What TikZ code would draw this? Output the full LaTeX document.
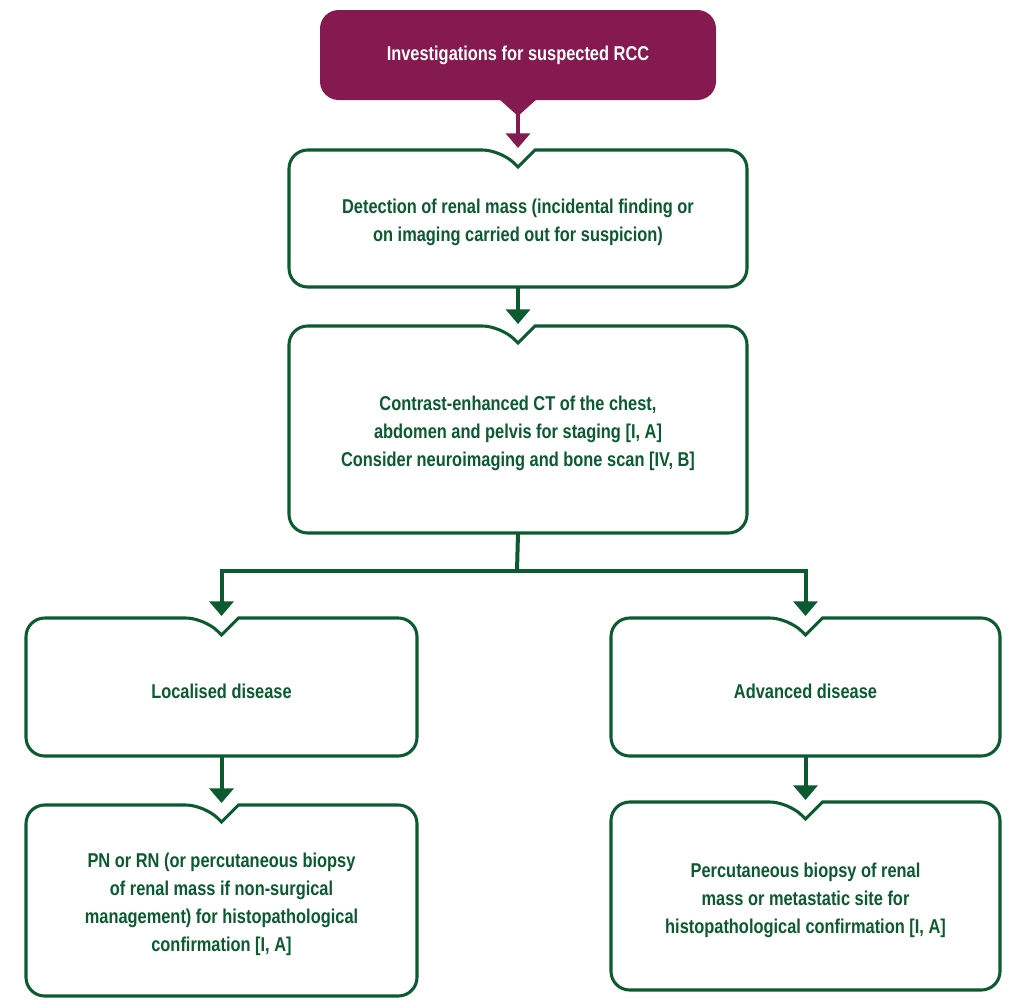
\documentclass[tikz,border=0pt]{standalone}
\usepackage{fontspec}
\setmainfont{Liberation Sans}[FakeStretch=0.82]
\usetikzlibrary{arrows.meta}
\definecolor{grn}{HTML}{0B5A30}
\definecolor{mag}{HTML}{841A4F}
\tikzset{
 bx/.style={draw=grn,line width=2.3pt,fill=white,rounded corners=14pt},
 tx/.style={text=grn,font=\bfseries\fontsize{15}{21}\selectfont,align=center},
 arr/.style={line width=3pt,-{Triangle[width=18pt,length=11pt]}},
}
\newcommand\nbox[6]{% name, x1,y1,x2,y2,text
 \pgfmathsetmacro\cx{(#2+#4)/2}
 \draw[bx] (\cx+17,#3) -- (#4,#3) -- (#4,#5) -- (#2,#5) -- (#2,#3) -- (\cx-17,#3) [sharp corners]-- (\cx,#3+17) -- cycle;
 \node[tx] (#1) at (\cx,{(#3+#5)/2+4}) {#6};
 \coordinate (#1-n) at (\cx,#3);
 \coordinate (#1-s) at (\cx,#5);
}
\begin{document}
\begin{tikzpicture}[x=0.75pt,y=-0.75pt]
\useasboundingbox (0,0) rectangle (1022,1001);
% top
\fill[mag,rounded corners=14pt] (320,10) rectangle (716,100);
\fill[mag] (499,99) -- (537,99) -- (518,116) -- cycle;
\node[text=white,font=\bfseries\fontsize{15}{21}\selectfont] (top) at (518,55) {Investigations for suspected RCC};
\coordinate (tt) at (518,112);
\nbox{b1}{289}{150}{747}{287}{Detection of renal mass (incidental finding or\\on imaging carried out for suspicion)}
\nbox{b2}{289}{326}{747}{533}{Contrast-enhanced CT of the chest,\\abdomen and pelvis for staging [I, A]\\Consider neuroimaging and bone scan [IV, B]}
\nbox{b3}{26}{618}{417}{756}{Localised disease}
\nbox{b4}{611}{618}{1000}{756}{Advanced disease}
\nbox{b5}{26}{805}{417}{996}{PN or RN (or percutaneous biopsy\\of renal mass if non-surgical\\management) for histopathological\\confirmation [I, A]}
\nbox{b6}{611}{802}{1000}{990}{Percutaneous biopsy of renal\\mass or metastatic site for\\histopathological confirmation [I, A]}
\draw[arr,draw=mag,fill=mag,-{Triangle[width=18pt,length=11pt,fill=mag]}] (tt) -- ([yshift=1.5pt]b1-n);
\draw[arr,draw=grn] (b1-s) -- ([yshift=1.5pt]b2-n);
\coordinate (j) at (517,571);
\draw[line width=3pt,draw=grn] (b2-s) -- (j);
\draw[arr,draw=grn] (j) -| ([yshift=1.5pt]b3-n);
\draw[arr,draw=grn] (j) -| ([yshift=1.5pt]b4-n);
\draw[arr,draw=grn] (b3-s) -- ([yshift=1.5pt]b5-n);
\draw[arr,draw=grn] (b4-s) -- ([yshift=1.5pt]b6-n);
\end{tikzpicture}
\end{document}
